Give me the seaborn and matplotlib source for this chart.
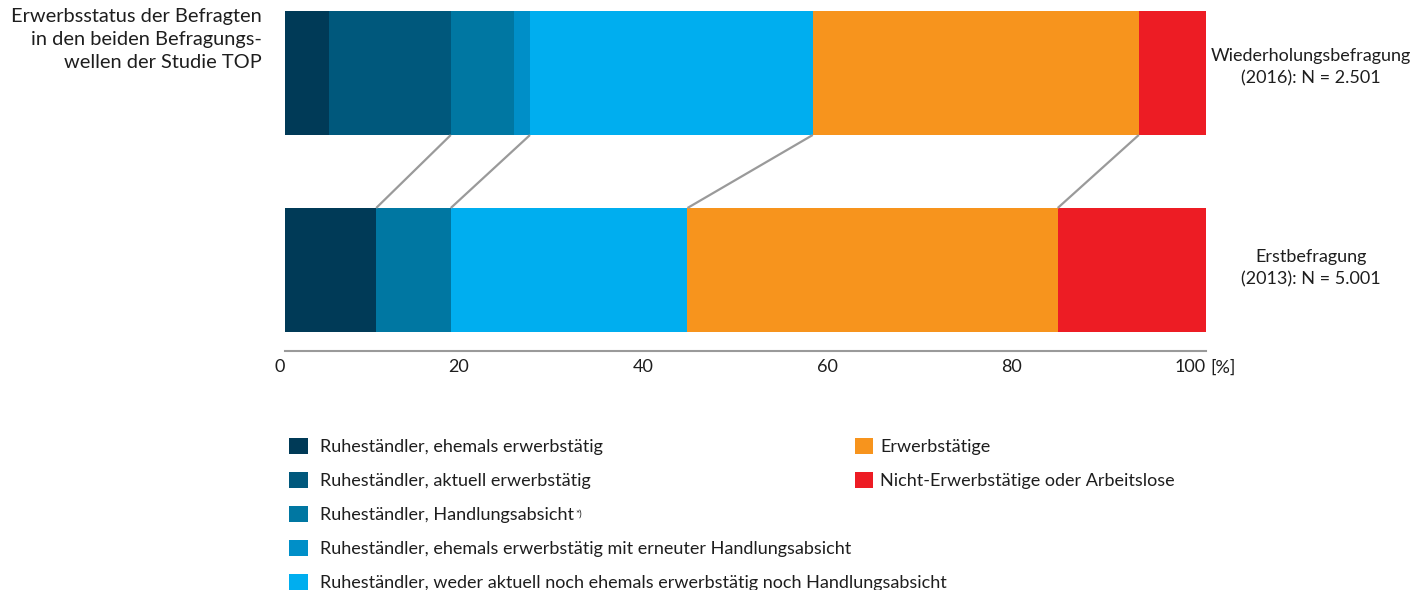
import matplotlib
matplotlib.use("Agg")
import matplotlib.pyplot as plt
import matplotlib.transforms as mtransforms
import seaborn as sns
import pandas as pd
import numpy as np
from matplotlib.patches import Patch

# ---- data ----
surveys = ["Wiederholungsbefragung\n(2016): N = 2.501", "Erstbefragung\n(2013): N = 5.001"]
categories = [
    "Ruheständler, ehemals erwerbstätig",
    "Ruheständler, aktuell erwerbstätig",
    "Ruheständler, Handlungsabsicht",
    "Ruheständler, ehemals erwerbstätig mit erneuter Handlungsabsicht",
    "Ruheständler, weder aktuell noch ehemals erwerbstätig noch Handlungsabsicht",
    "Erwerbstätige",
    "Nicht-Erwerbstätige oder Arbeitslose",
]
footnote_mark = "*)"
footnote_index = 2
values_2016 = [4.8, 13.2, 6.9, 1.7, 30.7, 35.4, 7.3]
values_2013 = [9.9, 0.0, 8.1, 0.0, 25.7, 40.2, 16.1]
xticks = [0, 20, 40, 60, 80, 100]
xticklabels = ["0", "20", "40", "60", "80", "100"]
unit_label = "[%]"
title = "Erwerbsstatus der Befragten\nin den beiden Befragungs-\nwellen der Studie TOP"

colors = ["#003a57", "#00587c", "#0077a2", "#008fc8", "#00aeef", "#f7941d", "#ed1c24"]
connect_after = [1, 3, 4, 5]
TXT = "#1e1e1e"

sns.set_theme(style="white")
plt.rcParams["font.family"] = ["Lato", "DejaVu Sans"]

W, H = 1413, 590
fig = plt.figure(figsize=(W / 100, H / 100), dpi=100)
ax = fig.add_axes([285 / W, (H - 351) / H, (1206 - 285) / W, 351 / H])

cum16 = np.cumsum(values_2016)
cum13 = np.cumsum(values_2013)
barw = 124 / 197
for i in range(len(categories) - 1, -1, -1):
    d = pd.DataFrame({"survey": surveys, "cum": [cum16[i], cum13[i]]})
    sns.barplot(data=d, x="cum", y="survey", order=surveys, color=colors[i],
                saturation=1, width=barw, linewidth=0, ax=ax, orient="h")

for i in connect_after:
    ax.plot([cum16[i], cum13[i]], [barw / 2, 1 - barw / 2], color="#9a9a9a", lw=1.6,
            solid_capstyle="butt", zorder=1)

ax.set_xlim(0, 100)
ax.set_ylim(1 + 81 / 197, -73 / 197)
ax.set_xlabel("")
ax.set_ylabel("")
ax.set_yticks([])
ax.set_xticks(xticks)
ax.set_xticklabels(xticklabels, fontsize=13, color=TXT, ha="right")
ax.tick_params(axis="x", length=0, pad=6)
for s in ["top", "right", "left"]:
    ax.spines[s].set_visible(False)
ax.spines["bottom"].set_color("#9a9a9a")
ax.spines["bottom"].set_linewidth(1.5)

# unit label next to the last tick, aligned with the tick labels
off = mtransforms.offset_copy(ax.get_xaxis_transform(), fig=fig, x=3, y=-6, units="points")
ax.text(100, 0, unit_label, transform=off, ha="left", va="top", fontsize=13, color=TXT)

# survey labels to the right of the bars
for j, s in enumerate(surveys):
    ax.text(1311 / W, 1 - ((67 if j == 0 else 268)) / H, s, transform=fig.transFigure,
            ha="center", va="center", fontsize=13, color=TXT, linespacing=1.45)

fig.text(262 / W, 1 - 8 / H, title, ha="right", va="top", fontsize=14.4,
         color=TXT, linespacing=1.44)

handles = [Patch(facecolor=c, edgecolor="none") for c in colors]
leg1 = fig.legend(handles[:5], categories[:5], loc="upper left",
                  bbox_to_anchor=(289 / W, 1 - 438 / H), frameon=False, fontsize=13,
                  handlelength=1.05, handleheight=1.0, handletextpad=0.67,
                  labelspacing=0.93, labelcolor=TXT, borderpad=0, borderaxespad=0)
leg2 = fig.legend(handles[5:], categories[5:], loc="upper left",
                  bbox_to_anchor=(855 / W, 1 - 438 / H), frameon=False, fontsize=13,
                  handlelength=1.0, handleheight=1.0, handletextpad=0.4,
                  labelspacing=0.93, labelcolor=TXT, borderpad=0, borderaxespad=0)

fig.canvas.draw()
bb = leg1.get_texts()[footnote_index].get_window_extent(fig.canvas.get_renderer())
fig.text((bb.x1 + 1) / W, (bb.y1 - 2) / H, footnote_mark, fontsize=7, color=TXT,
         ha="left", va="top")

fig.savefig("out.png", dpi=100)
